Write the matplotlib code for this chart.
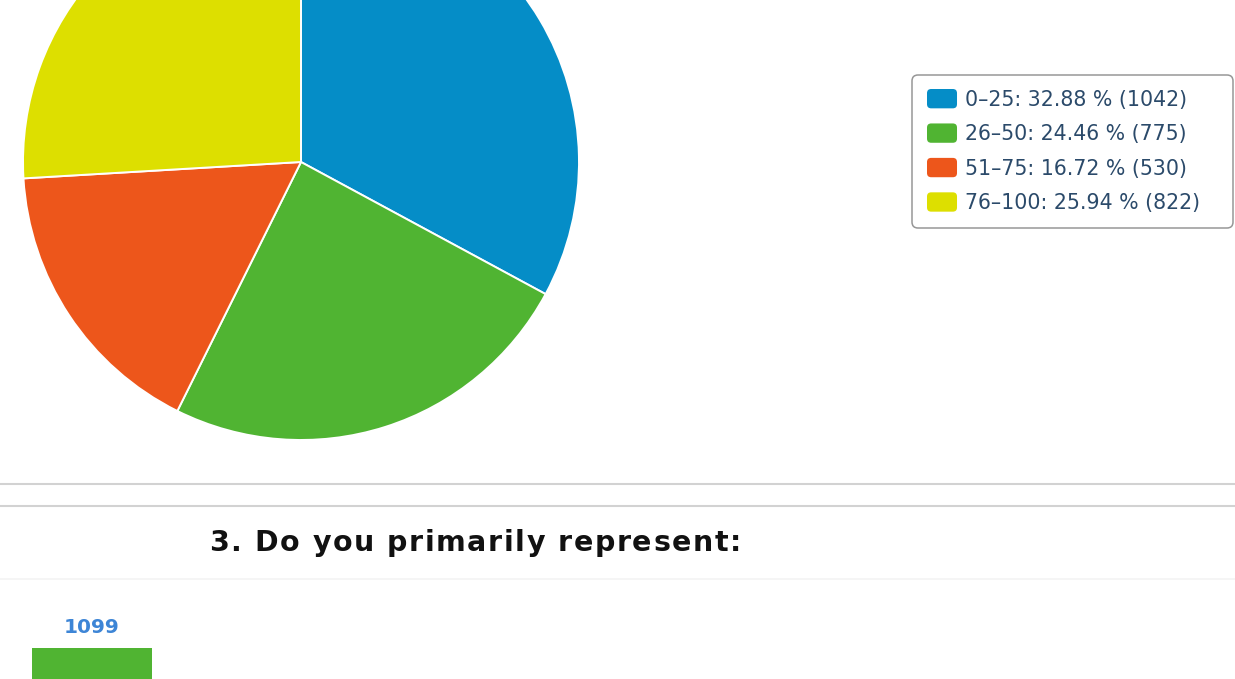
import matplotlib
matplotlib.use("Agg")
import matplotlib.pyplot as plt
from matplotlib.patches import FancyBboxPatch
from matplotlib.legend_handler import HandlerPatch
from matplotlib.font_manager import FontProperties

# ---- data ----
pie_labels = ["0–25", "26–50", "51–75", "76–100"]
pie_counts = [1042, 775, 530, 822]
pie_pcts = [32.88, 24.46, 16.72, 25.94]
pie_colors = ["#058DC7", "#50B432", "#ED561B", "#DDDF00"]

bar_title = "3. Do you primarily represent:"
bar_categories = ["A"]
bar_values = [1099]
bar_color = "#50B432"

W, H = 1235, 679
fig = plt.figure(figsize=(W / 100, H / 100), dpi=100)
fig.patch.set_facecolor("white")

ax = fig.add_axes([0, 0, 1, 1])
wedges, _ = ax.pie(pie_counts, colors=pie_colors, startangle=90, counterclock=False,
                   radius=278, center=(301, H - 162),
                   wedgeprops=dict(edgecolor="white", linewidth=1.4))
ax.set_xlim(0, W)
ax.set_ylim(0, H)
ax.set_aspect("auto")
ax.axis("off")

# legend frame
ax.add_patch(FancyBboxPatch((912, H - 228), 1233 - 912, 228 - 75,
                            boxstyle="round,pad=0,rounding_size=6",
                            facecolor="white", edgecolor="#979797", linewidth=1.1,
                            zorder=3))


def rounded_handle(legend, orig_handle, xdescent, ydescent, width, height, fontsize):
    return FancyBboxPatch((-xdescent, -ydescent), width, height,
                          boxstyle="round,pad=0,rounding_size=3")


labels = [f"{l}: {p:.2f} % ({c})" for l, p, c in zip(pie_labels, pie_pcts, pie_counts)]
fs_leg = 14.8
leg = ax.legend(wedges, labels, loc="upper left",
                bbox_to_anchor=(927 / W, 1 - 89 / H), bbox_transform=fig.transFigure,
                fontsize=fs_leg, labelcolor="#2b4a6a", frameon=False,
                handlelength=1.46, handleheight=1.07, handletextpad=0.4,
                labelspacing=0.67, borderpad=0, borderaxespad=0,
                handler_map={type(wedges[0]): HandlerPatch(patch_func=rounded_handle)})
leg.set_zorder(4)
for h in leg.legend_handles:
    h.set_edgecolor("none")

# separators
ax.axhline(H - 484, color="#d2d2d2", lw=1.5)
ax.axhline(H - 506, color="#d2d2d2", lw=1.5)
ax.axhline(H - 579, color="#f4f4f4", lw=1.2)

# title with letter spacing
renderer = fig.canvas.get_renderer()
tprop = FontProperties(family="DejaVu Sans", weight="bold", size=20.5)


def tw(s):
    w1, _, _ = renderer.get_text_width_height_descent(s + "|", tprop, ismath=False)
    w0, _, _ = renderer.get_text_width_height_descent("|", tprop, ismath=False)
    return w1 - w0


x0, x1 = 209, 741
nat = tw(bar_title)
sp = (x1 - x0 - nat) / (len(bar_title) - 1)
for i, ch in enumerate(bar_title):
    if ch == " ":
        continue
    ax.text(x0 + tw(bar_title[:i]) + i * sp, H - 543, ch, ha="left", va="center",
            fontproperties=tprop, color="#111111")

# bar chart axes (extends below the figure)
top_px = 600
ymax = 1320
bar_top_px = 648
frac = bar_values[0] / ymax
bot_px = (bar_top_px - top_px * frac) / (1 - frac)
ax2 = fig.add_axes([0, (H - bot_px) / H, 1, (bot_px - top_px) / H])
bars = ax2.bar(range(len(bar_values)), bar_values, width=0.6, color=bar_color)
ax2.set_xlim(-0.46, (W - 92) / 200)
ax2.set_ylim(0, ymax)
ax2.axis("off")
ax2.bar_label(bars, padding=8, color="#3d85d6", fontsize=14.5, fontweight="bold")

fig.savefig("out.png", dpi=100, facecolor="white")
